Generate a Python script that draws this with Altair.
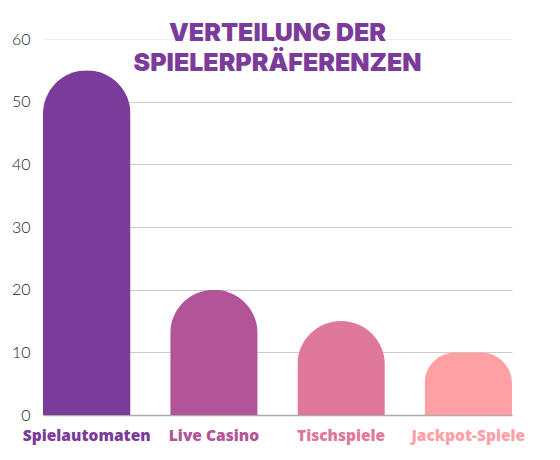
import altair as alt
import pandas as pd

categories = ["Spielautomaten", "Live Casino", "Tischspiele", "Jackpot-Spiele"]
values = [55, 20, 15, 10]
colors = ["#7B3B9A", "#B15498", "#E0789B", "#FFA0A5"]
title_lines = ["VERTEILUNG DER", "SPIELERPRÄFERENZEN"]

df = pd.DataFrame({"Kategorie": categories, "Wert": values})

label_color = {
    "condition": [
        {"test": f"datum.value == '{c}'", "value": col}
        for c, col in zip(categories, colors)
    ],
    "value": "#333",
}

chart = (
    alt.Chart(df)
    .mark_bar(cornerRadiusTopLeft=44, cornerRadiusTopRight=44)
    .encode(
        x=alt.X(
            "Kategorie:N",
            sort=categories,
            title=None,
            scale=alt.Scale(paddingInner=0.312, paddingOuter=0),
            axis=alt.Axis(
                labelAngle=0,
                labelFont="Open Sans",
                labelFontWeight=800,
                labelFontSize=15.5,
                labelColor=label_color,
                labelPadding=13,
                ticks=False,
                domainColor="#aaaaaa",
                domainWidth=1.5,
                grid=False,
            ),
        ),
        y=alt.Y(
            "Wert:Q",
            title=None,
            scale=alt.Scale(domain=[0, 60]),
            axis=alt.Axis(
                values=[0, 10, 20, 30, 40, 50, 60],
                labelFont="Lato",
                labelFontWeight=300,
                labelFontSize=16,
                labelColor="#222222",
                labelPadding=13,
                ticks=False,
                domain=False,
                gridColor={
                    "condition": {"test": "datum.value == 60", "value": "#eeeeee"},
                    "value": "#cccccc",
                },
                gridWidth=1.2,
            ),
        ),
        color=alt.Color(
            "Kategorie:N",
            sort=categories,
            scale=alt.Scale(domain=categories, range=colors),
            legend=None,
        ),
    )
    .properties(
        width=469,
        height=376,
        title=alt.TitleParams(
            text=title_lines,
            font="Inter",
            fontWeight=900,
            fontSize=25,
            color="#7B3B9A",
            lineHeight=30,
            anchor="middle",
            offset=-45,
        ),
        padding={"left": 3, "top": 13, "right": 5, "bottom": 5},
    )
    .configure_view(stroke=None)
)

chart.save("out.html", embed_options={"renderer": "svg", "actions": False})
